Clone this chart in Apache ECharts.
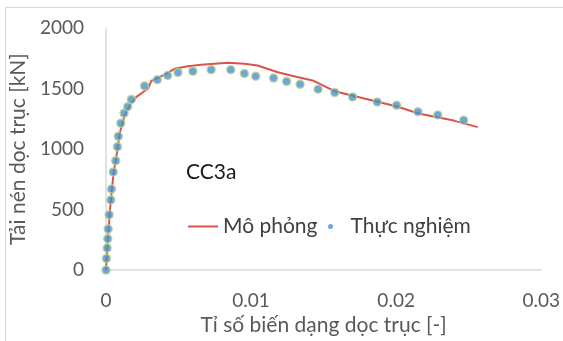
<!DOCTYPE html>
<html>
<head>
<meta charset="utf-8">
<script src="https://cdn.jsdelivr.net/npm/echarts@6/dist/echarts.min.js"></script>
<style>html,body{margin:0;padding:0;background:#fff}#c{width:563px;height:341px}</style>
</head>
<body>
<div id="c"></div>
<script>
// Simulation curve (Mô phỏng): [strain, load kN]
const simData = [
  [0,0],[0.00026,479],[0.0005,778],[0.00072,941],[0.00095,1132],[0.00129,1282],
  [0.00164,1363],[0.0021,1431],[0.0029,1500],[0.00312,1562],[0.00393,1608],
  [0.00473,1663],[0.00564,1684],[0.00656,1696],[0.0084,1712],[0.00954,1704],
  [0.01045,1690],[0.01184,1635],[0.01274,1608],[0.01424,1567],[0.01572,1480],
  [0.01687,1445],[0.0188,1388],[0.02017,1347],[0.02154,1294],[0.02283,1263],
  [0.02397,1235],[0.02562,1181]
];
// Experimental points (Thực nghiệm)
const expData = [
  [0,0],[0.00003,96],[0.00008,182],[0.00012,259],[0.00015,340],[0.00022,457],
  [0.00033,580],[0.00038,669],[0.0005,811],[0.00067,904],[0.00079,1018],
  [0.00085,1105],[0.00102,1214],[0.00125,1296],[0.0015,1350],[0.00175,1410],
  [0.00266,1521],[0.00354,1573],[0.00425,1608],[0.00496,1633],[0.00599,1643],
  [0.00725,1655],[0.0086,1655],[0.00954,1624],[0.01032,1602],[0.01155,1586],
  [0.01245,1559],[0.01338,1535],[0.01462,1494],[0.01577,1467],[0.017,1431],
  [0.0187,1388],[0.02003,1361],[0.0215,1309],[0.02287,1282],[0.02465,1238]
];
const seriesNames = ['Mô phỏng','Thực nghiệm'];
const xTitle = 'Tỉ số biến dạng dọc trục [-]';
const yTitle = 'Tải nén dọc trục [kN]';
const specimen = 'CC3a';

const FONT = 'Lato';
const legendText = {fontFamily:FONT,fontSize:21,color:'#404040'};
const chart = echarts.init(document.getElementById('c'), null, {renderer:'canvas'});
chart.setOption({
  animation:false,
  backgroundColor:'#fff',
  textStyle:{fontFamily:FONT},
  graphic:[{type:'rect',shape:{x:5.5,y:7.5,width:570,height:345},style:{fill:'none',stroke:'#d9d9d9',lineWidth:1},z:-1}],
  title:{text:specimen,left:181,top:157,textStyle:{fontFamily:FONT,fontSize:21,fontWeight:'normal',color:'#1a1a1a'}},
  legend:[
    {left:183,top:211,itemWidth:30,itemHeight:2,textStyle:legendText,
     data:[{name:seriesNames[0],icon:'rect',itemStyle:{color:'#d9534f'}}]},
    {left:323,top:211,itemWidth:30,itemHeight:5,textStyle:legendText,
     data:[{name:seriesNames[1],icon:'circle',itemStyle:{color:'#4a90d0',borderWidth:0}}]}
  ],
  grid:{left:104.5,right:21.5,top:28,bottom:69,containLabel:false},
  xAxis:{
    type:'value',min:0,max:0.03,interval:0.01,
    name:xTitle,nameLocation:'middle',nameGap:41,
    nameTextStyle:{fontFamily:FONT,fontSize:21,color:'#595959'},
    axisLine:{show:true,lineStyle:{color:'#d9d9d9',width:1.5}},
    axisTick:{show:false},splitLine:{show:false},
    axisLabel:{fontFamily:FONT,fontSize:19,color:'#595959',margin:21,formatter:v=>v===0?'0':String(+v.toFixed(2))}
  },
  yAxis:{
    type:'value',min:0,max:2000,interval:500,
    name:yTitle,nameLocation:'middle',nameGap:72,
    nameTextStyle:{fontFamily:FONT,fontSize:21,color:'#595959'},
    axisLine:{show:true,lineStyle:{color:'#d9d9d9',width:1.5}},
    axisTick:{show:false},splitLine:{show:false},
    axisLabel:{fontFamily:FONT,fontSize:19,color:'#595959',margin:22,formatter:v=>String(v)}
  },
  series:[
    {name:seriesNames[0],type:'line',data:simData,symbol:'none',smooth:false,
     lineStyle:{color:'#d9534f',width:2},itemStyle:{color:'#d9534f'},z:2},
    {name:seriesNames[1],type:'scatter',data:expData,symbol:'circle',symbolSize:8,
     itemStyle:{color:'#4a90d0',borderColor:'#b5d48a',borderWidth:1.5},z:3}
  ]
});
</script>
</body>
</html>
